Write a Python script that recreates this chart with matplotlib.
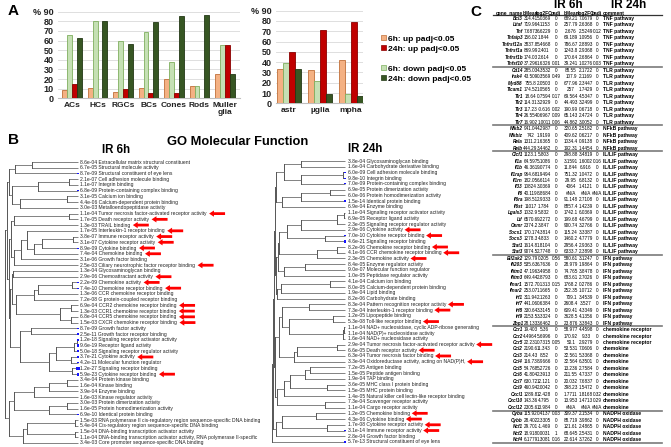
import numpy as np
import matplotlib
matplotlib.use('Agg')
import matplotlib.pyplot as plt
from matplotlib.patches import Patch
from matplotlib.transforms import offset_copy
from matplotlib import font_manager as fm

# ------------------------------------------------------------------ data (A)
series_labels = ['6h: up padj<0.05', '6h: down padj<0.05',
                 '24h: up padj<0.05', '24h: down padj<0.05']
retina_cells = ['ACs', 'HCs', 'RGCs', 'BCs', 'Cones', 'Rods', 'Muller\nglia']
retina_up6 = [8.7, 10.4, 6.2, 10.4, 20, 13, 25]
retina_down6 = [65.7, 80.3, 59.5, 68.5, 38, 13, 55]
retina_up24 = [14.5, 0, 9.7, 5.2, 5.5, 0, 55]
retina_down24 = [63, 80.3, 56.4, 79.2, 85.8, 86.5, 25]
glia_cells = ['astr', 'µglia', 'mpha']
glia_up6 = [33, 32, 42]
glia_down6 = [39, 22, 9]
glia_up24 = [50, 71, 79]
glia_down24 = [33, 9.5, 6.8]
pct_ticks = [0, 10, 20, 30, 40, 50, 60, 70, 80, 90]

# ------------------------------------------------------------------ data (B)
go6_pvals = ['8.6e-04', '6.7e-05', '8.7e-09', '2.1e-07', '1.1e-07', '6.8e-09', '3.1e-05', '4.4e-06',
             '3.0e-03', '1.1e-04', '1.7e-05', '1.3e-03', '1.7e-05', '3.8e-07', '3.1e-07', '8.9e-09',
             '7.4e-04', '3.1e-06', '2.5e-03', '1.3e-04', '2.9e-06', '2.2e-09', '7.4e-10', '1.3e-06',
             '7.2e-08', '6.9e-04', '1.3e-03', '6.8e-04', '1.5e-03', '8.7e-09', '2.5e-11', '1.2e-18',
             '9.6e-19', '5.0e-18', '3.7e-21', '4.2e-11', '1.2e-27', '5.9e-23', '3.4e-04', '1.6e-04',
             '3.9e-04', '1.6e-03', '3.0e-03', '1.6e-05', '6.9e-10', '1.5e-03', '5.4e-04', '1.5e-04',
             '1.1e-04', '3.4e-03']
go6_terms = ['Extracellular matrix structural constituent', 'Structural molecule activity',
             'Structural constituent of eye lens', 'Cell adhesion molecule binding', 'Integrin binding',
             'Protein-containing complex binding', 'Calcium ion binding', 'Calcium-dependent protein binding',
             'Metalloendopeptidase activity', 'Tumor necrosis factor-activated receptor activity',
             'Death receptor activity', 'TRAIL binding', 'Interleukin-1 receptor binding',
             'Immune receptor activity', 'Cytokine receptor activity', 'Cytokine binding',
             'Chemokine binding', 'Growth factor binding', 'Ciliary neurotrophic factor receptor binding',
             'Glycosaminoglycan binding', 'Chemoattractant activity', 'Chemokine activity',
             'Chemokine receptor binding', 'CCR chemokine receptor binding',
             'G protein-coupled receptor binding', 'CCR2 chemokine receptor binding',
             'CCR1 chemokine receptor binding', 'CCR5 chemokine receptor binding',
             'CXCR chemokine receptor binding', 'Growth factor activity', 'Growth factor receptor binding',
             'Signaling receptor activator activity', 'Receptor ligand activity',
             'Signaling receptor regulator activity', 'Cytokine activity', 'Molecular function regulator',
             'Signaling receptor binding', 'Cytokine receptor binding', 'Protein kinase binding',
             'Kinase binding', 'Enzyme binding', 'Kinase regulator activity', 'Protein dimerization activity',
             'Protein homodimerization activity', 'Identical protein binding',
             'RNA polymerase II cis-regulatory region sequence-specific DNA binding',
             'Cis-regulatory region sequence-specific DNA binding',
             'DNA-binding transcription activator activity',
             'DNA-binding transcription activator activity, RNA polymerase II-specific',
             'Core promoter sequence-specific DNA binding']
go6_marked = [9, 10, 11, 12, 13, 14, 15, 16, 18, 20, 21, 22, 25, 26, 27, 28, 34, 37]
go6_tree = (1.0,
            (0.97,
             (0.95, (0.86, (0.63, 0, 1), 2),
              (0.9, (0.55, (0.13, 3, 4), 5), (0.8, (0.15, 6, 7), 8))),
             (0.94,
              (0.92, (0.88, (0.13, 9, 10), 11),
               (0.88, (0.78, (0.7, 12, (0.6, (0.5, (0.07, 13, 14), 15), 16)), 17), 18)),
              (0.93,
               (0.9, (0.89, 19, 20),
                (0.85, (0.6, (0.55, (0.08, 21, 22), 23), 24), (0.25, (0.1, 25, 26), (0.1, 27, 28)))),
               (0.8, (0.65, 29, 30),
                (0.4, (0.3, (0.05, (0.02, 31, 32), 33), (0.1, 34, 35)), (0.08, 36, 37)))))),
            (0.95, (0.88, (0.6, (0.4, (0.15, 38, 39), 40), 41), (0.4, (0.15, 42, 43), 44)),
             (0.75, (0.7, (0.04, 45, 46), (0.04, 47, 48)), 49)))

go24_pvals = ['3.8e-04', '1.6e-04', '6.0e-09', '9.8e-10', '7.0e-09', '6.9e-05', '6.0e-06', '1.5e-14',
              '6.9e-04', '1.1e-04', '6.9e-05', '2.3e-05', '2.9e-06', '7.0e-10', '4.6e-21', '8.2e-06',
              '4.1e-06', '2.3e-05', '8.4e-05', '9.0e-07', '1.0e-05', '4.1e-04', '8.0e-05', '1.9e-04',
              '8.2e-06', '8.3e-04', '7.3e-04', '1.2e-05', '5.3e-08', '1.1e-04', '1.1e-04', '1.6e-04',
              '2.9e-04', '6.6e-05', '6.3e-04', '3.3e-04', '7.2e-05', '1.5e-05', '1.9e-04', '3.6e-05',
              '1.5e-05', '1.4e-05', '7.3e-04', '1.1e-04', '1.2e-05', '4.3e-06', '1.7e-08', '3.1e-14',
              '2.8e-04', '5.7e-13']
go24_terms = ['Glycosaminoglycan binding', 'Carbohydrate derivative binding', 'Cell adhesion molecule binding',
              'Integrin binding', 'Protein-containing complex binding', 'Protein dimerization activity',
              'Protein homodimerization activity', 'Identical protein binding', 'Enzyme binding',
              'Signaling receptor activator activity', 'Receptor ligand activity',
              'Signaling receptor regulator activity', 'Cytokine activity', 'Cytokine receptor binding',
              'Signaling receptor binding', 'Chemokine receptor binding', 'CCR chemokine receptor binding',
              'Chemokine activity', 'Enzyme regulator activity', 'Molecular function regulator',
              'Peptidase regulator activity', 'Calcium ion binding', 'Calcium-dependent protein binding',
              'Lipid binding', 'Carbohydrate binding', 'Pattern recognition receptor activity',
              'Interleukin-1 receptor binding', 'Lipopeptide binding', 'Toll-like receptor binding',
              'NAD+ nucleosidase, cyclic ADP-ribose generating', 'NAD(P)+ nucleosidase activity',
              'NAD+ nucleosidase activity', 'Tumor necrosis factor-activated receptor activity',
              'Death receptor activity', 'Tumor necrosis factor binding',
              'Oxidoreductase activity, acting on NAD(P)H,', 'Antigen binding', 'Peptide antigen binding',
              'TAP binding', 'MHC class I protein binding', 'MHC protein binding',
              'Natural killer cell lectin-like receptor binding', 'Scavenger receptor activity',
              'Cargo receptor activity', 'Chemokine binding', 'Cytokine binding', 'Cytokine receptor activity',
              'Immune receptor activity', 'Growth factor binding', 'Structural constituent of eye lens']
go24_marked = [12, 13, 15, 16, 17, 25, 26, 28, 32, 33, 34, 35, 44, 45, 46, 47]
go24_tree = (1.0,
             (0.98,
              (0.97,
               (0.96,
                (0.95, (0.84, (0.6, 0, 1), (0.6, (0.03, 2, 3), 4)), (0.86, (0.6, (0.2, 5, 6), 7), 8)),
                (0.95,
                 (0.92, (0.9, (0.8, (0.6, (0.11, (0.02, 9, 10), 11), 12), (0.27, 13, 14)),
                         (0.38, (0.11, 15, 16), 17)), (0.84, (0.55, 18, 19), 20)),
                 (0.93, (0.87, (0.2, 21, 22), 23), 24))),
               (0.96,
                (0.9, (0.86, (0.5, 25, 26), (0.77, (0.16, 27, 28), (0.03, (0.01, 29, 30), 31))),
                 (0.7, (0.66, (0.11, 32, 33), 34), 35)),
                (0.93, (0.84, (0.75, (0.55, (0.48, 36, 37), 38), (0.25, 39, 40)), 41), (0.27, 42, 43)))),
              (0.95, (0.86, (0.4, 44, 45), (0.25, 46, 47)), 48)),
             49)

# ------------------------------------------------------------------ data (C)
NA = np.nan
tab_genes = ['Bcl3', 'Litaf', 'Tnf', 'Tnfaip3', 'Tnfrsf12a', 'Tnfrsf1a', 'Tnfrsf1b', 'Tnfsf10',
             'Cd14', 'Irak4', 'Myd88', 'Ticam1', 'Tlr1', 'Tlr2', 'Tlr3', 'Tlr4', 'Tlr7',
             'Nfkb2', 'Nfkbiz', 'Rela', 'Relb',
             'Clcf1', 'Il1a', 'Il1b', 'Il1rap', 'Il1rn', 'Il33', 'Il6', 'Il6ra', 'Il6st', 'Lgals3', 'Lif',
             'Osmr', 'Socs1', 'Socs3', 'Stat1', 'Stat3',
             'Eif2ak2', 'Ifi203', 'Ifitm1', 'Ifitm3', 'Ifnar1', 'Ifnar2', 'Irf1', 'Irf7', 'Irf8', 'Irf9', 'Zbp1',
             'Ccr1', 'Ccr2', 'Ccr5', 'Ccl2', 'Ccl3', 'Ccl4', 'Ccl5', 'Ccl6', 'Ccl7', 'Ccl9', 'Cxcl1',
             'Cxcl10', 'Cxcl12',
             'Cyba', 'Cybb', 'Ncf1', 'Ncf2', 'Ncf4']
tab_bmean6 = [314.41, 719.96, 7.6873, 156.02, 3837.8, 869.99, 174.03, 37.296,
              285.03, 43.509, 755.8, 174.52, 18.64, 114.31, 117.23, 26.554, 16.902,
              941.04, 742, 1311.2, 444.29,
              1123.1, 64.597, 46.361, 964.68, 182.05, 10824, 40.119, 198.51, 11017, 1032.9, 6570.6,
              2374.2, 170.17, 1278.3, 1614.8, 9074.5,
              129.79, 535.63, 47.196, 649.44, 1572.7, 253.07, 311.94, 441.06, 330.64, 2153.5, 28.133,
              19.403, 4.4964, 22.231, 2190.6, 214.43, 116.73, 54.768, 41.804, 630.72, 460.94, 1289.8,
              143.36, 2305.6,
              115.92, 28.402, 29.701, 18.918, 6.1779]
tab_lfc6 = [5.0369, 4.1153, 6.6229, 1.844, 5.4668, 2.401, 2.614, 1.6326,
            4.3532, 0.3569, 2.0503, 1.0565, 0.7594, 3.2929, -0.616, 0.6967, 1.0011,
            4.2987, 1.9199, 1.6365, 3.4462,
            5.803, 5.1086, 9.0774, 1.9494, 6.6114, 3.0369, 8.8684, 2.9333, 1.784, 5.832, 9.2272,
            3.847, 4.3814, 4.833, 1.8104, 2.7748,
            0.205, 6.7636, 3.4958, 2.8793, 0.1313, 1.1665, 2.1263, 0.6384, 3.3145, 3.3324, 3.6462,
            5.36, 5.6996, 0.7315, 11.343, 8.52, 8.9666, 5.2726, 2.3913, 12.121, 2.0042, 12.428,
            4.795, 13.984,
            0.4137, 2.3305, -1.469, 0.0031, 1.3081]
tab_padj6 = [0, 0, 0, 0, 0, 0, 0, 0.01,
             0, 0.49, 0, 0, 0.17, 0, 0.02, 0.09, 0.06,
             0, 0, 0, 0,
             0, 0, 0, 0, 0, 0, 0, 0, 0, 0, 0, 0, 0, 0, 0, 0,
             0.56, 0, 0, 0, 0.15, 0, 0, 0, 0, 0, 0,
             0, 0, 0.05, 0, 0, 0, 0, 0, 0, 0, 0, 0, 0,
             0.03, 0, 0, 1, 0.16]
tab_bmean24 = [689.21, 257.79, 2.676, 69.189, 786.67, 1243.8, 170.64, 39.241,
               88.55, 107.9, 677.96, 257, 69.564, 44.493, 190.99, 65.143, 44.862,
               320.65, 409.62, 1034.4, 192.31,
               298.88, 3.1591, 11.844, 751.32, 29.95, 4064, NA, 91.148, 8857.4, 1742.1, 199.68,
               900.74, 115.24, 1460.2, 2956.4, 6333.7,
               580.61, 28.979, 74.765, 683.61, 1768.2, 252.35, 709.1, 2608.4, 609.41, 3628.5, 23.876,
               58.977, 170.92, 50.1, 53.531, 32.561, 32.564, 13.236, 211.55, 20.032, 398.23, 1.7711,
               13.953, NA,
               309.37, 88.719, 121.61, 68.645, 22.614]
tab_lfc24 = [7.0679, 2.6368, 2.5249, 1.0956, 2.8893, 2.9368, 2.6864, 1.0276,
             2.1722, 2.1169, 2.3447, 1.7429, 4.5347, 3.2499, 0.6718, 2.4724, 3.0052,
             2.5182, 0.6217, 0.9138, 1.4454,
             3.4819, 1.6002, 6.916, 1.0472, 6.8132, 1.4121, NA, 2.7108, 1.4239, 6.0369, 4.6799,
             3.2766, 3.3387, 4.7779, 2.9363, 2.3898,
             3.1247, 1.9864, 3.8478, 2.7026, 0.2786, 1.0712, 3.4539, 3.527, 4.3349, 4.1356, 3.3843,
             4.4598, 9.33, 2.9279, 7.0606, 5.3368, 6.3501, 2.7584, 4.7337, 7.6837, 1.5472, 1.8168,
             1.4713, NA,
             2.1534, 3.9862, 2.4865, 2.5431, 3.7262]
tab_padj24 = [0, 0, 0.12, 0, 0, 0, 0, 0.03,
              0, 0, 0, 0, 0, 0, 0, 0, 0,
              0, 0, 0, 0,
              0, 0.16, 0, 0, 0, 0, NA, 0, 0, 0, 0, 0, 0, 0, 0, 0,
              0, 0, 0, 0, 0, 0, 0, 0, 0, 0, 0,
              0, 0, 0, 0, 0, 0, 0, 0, 0, 0, 0.32, 0.29, NA,
              0, 0, 0, 0, 0]
tab_comment = (['TNF pathway'] * 8 + ['TLR pathway'] * 9 + ['NFkB pathway'] * 4 +
               ['IL/LIF pathway'] * 16 + ['IFN pathway'] * 11 + ['chemokine receptor'] * 3 +
               ['chemokine'] * 10 + ['NADPH oxidase'] * 5)
tab_header = ['gene_name', 'bMean', 'log2FC', 'padj', 'bMean', 'log2FC', 'padj', 'comment']
tab_titles = ['IR 6h', 'IR 24h']

# ------------------------------------------------------------------ figure
W, H = 671, 447
plt.rcParams['font.family'] = ['Liberation Sans', 'DejaVu Sans']
fig = plt.figure(figsize=(W / 100, H / 100), dpi=100)
names = {f.name for f in fm.fontManager.ttflist}
NARROW = 'Liberation Sans Narrow' if 'Liberation Sans Narrow' in names else 'Liberation Sans'


def px_axes(x0, y0, x1, y1):
    return fig.add_axes([x0 / W, 1 - y1 / H, (x1 - x0) / W, (y1 - y0) / H])


FILL = ['#F4B183', '#C5E0B4', '#C00000', '#375623']
EDGE = ['#C0703A', '#7FAF5F', '#8A0000', '#233816']


def bar_chart(ax, cats, series, xlim):
    x = np.arange(len(cats))
    w = 0.19
    for k, vals in enumerate(series):
        ax.bar(x + (k - 1.5) * w, vals, width=w, color=FILL[k], edgecolor=EDGE[k], linewidth=0.6, zorder=3)
    ax.set_xlim(*xlim)
    ax.set_ylim(0, 90)
    ax.set_yticks(pct_ticks)
    ax.set_yticklabels([str(t) if t < 90 else '% ' + str(t) for t in pct_ticks],
                       fontsize=6.5, fontweight='bold', color='#222222')
    ax.set_xticks(x)
    ax.set_xticklabels(cats, fontsize=6, fontweight='bold', color='#222222', linespacing=1.0)
    ax.tick_params(length=0, pad=3)
    ax.grid(axis='y', color='#d9d9d9', lw=0.6, zorder=0)
    for s in ['top', 'right', 'left']:
        ax.spines[s].set_visible(False)
    ax.spines['bottom'].set_color('#bfbfbf')
    ax.spines['bottom'].set_linewidth(0.8)
    ax.set_facecolor('none')


ax1 = px_axes(58, 11.7, 240, 98.3)
bar_chart(ax1, retina_cells, [retina_up6, retina_down6, retina_up24, retina_down24], (-0.55, 6.59))
ax2 = px_axes(276, 10.7, 363, 103.3)
bar_chart(ax2, glia_cells, [glia_up6, glia_down6, glia_up24, glia_down24], (-0.42, 2.39))

handles = [Patch(facecolor=FILL[k], edgecolor=EDGE[k], linewidth=0.5) for k in range(4)]
for grp, ytop in (([0, 2], 35), ([1, 3], 65)):
    fig.legend([handles[k] for k in grp], [series_labels[k] for k in grp], loc='upper left',
               bbox_to_anchor=(381 / W, 1 - ytop / H), frameon=False, handlelength=0.6,
               handleheight=0.6, handletextpad=0.2, labelspacing=0.3, borderpad=0, borderaxespad=0,
               prop=dict(weight='bold', size=6))

fig.text(8 / W, 1 - 11 / H, 'A', fontsize=11, fontweight='bold', va='center', ha='left')
fig.text(8 / W, 1 - 140 / H, 'B', fontsize=11, fontweight='bold', va='center', ha='left')
fig.text(470 / W, 1 - 12 / H, 'C', fontsize=11, fontweight='bold', va='center', ha='left')
fig.text(238 / W, 1 - 142 / H, 'GO Molecular Function', fontsize=9.3, fontweight='bold', ha='center', va='center')
fig.text(116 / W, 1 - 150 / H, 'IR 6h', fontsize=8.3, fontweight='bold', ha='center', va='center')
fig.text(365 / W, 1 - 149 / H, 'IR 24h', fontsize=8.3, fontweight='bold', ha='center', va='center')

# ------------------------------------------------------------------ dendrograms


def draw_tree(ax, node):
    if isinstance(node, int):
        return float(node), 0.0
    h = node[0]
    pts = [draw_tree(ax, c) for c in node[1:]]
    for y, ch in pts:
        ax.plot([ch, h], [y, y], color='#6e6e6e', lw=0.6, solid_capstyle='butt', clip_on=False)
    ys = [p[0] for p in pts]
    ax.plot([h, h], [min(ys), max(ys)], color='#3a3a3a', lw=0.6, clip_on=False)
    return float(np.mean(ys)), h


def dendro(box, tree, pvals, terms, marked):
    x0, x1, ytop, ybot = box
    n = len(terms)
    step = (ybot - ytop) / (n - 1)
    ax = px_axes(x0, ytop - step / 2, x1, ybot + step / 2)
    ax.set_xlim(1.0, 0.0)
    ax.set_ylim(n - 0.5, -0.5)
    ax.axis('off')
    draw_tree(ax, tree)
    p = np.array([float(v) for v in pvals])
    ax.scatter(np.zeros(n), np.arange(n), s=(-np.log10(p)) ** 2 * 0.008, color='#1515ff',
               marker='s', linewidths=0, zorder=4, clip_on=False)
    tr = offset_copy(ax.transData, fig=fig, x=2.5, y=0, units='dots')
    for i in range(n):
        t = ax.text(0, i, pvals[i] + ' ' + terms[i], transform=tr, fontsize=3.6, va='center',
                    ha='left', color='#222222')
        if i in marked:
            ax.annotate('', xy=(1, 0.5), xycoords=t, xytext=(13, 0), textcoords='offset points',
                        arrowprops=dict(arrowstyle='simple,head_length=0.7,head_width=0.9,tail_width=0.4',
                                        mutation_scale=5, color='#ff0000', shrinkA=0, shrinkB=1.5, lw=0))
    return ax


dendro((5, 78, 162, 443), go6_tree, go6_pvals, go6_terms, go6_marked)
dendro((272, 345, 161, 442), go24_tree, go24_pvals, go24_terms, go24_marked)

# ------------------------------------------------------------------ table C
row0, rstep = 18.5, 6.48
axt = px_axes(490, 0, 671, 447)
axt.set_xlim(490, 671)
axt.set_ylim((447 - row0) / rstep, (0 - row0) / rstep)
axt.axis('off')


def fmt(v):
    return '#N/A' if (isinstance(v, float) and np.isnan(v)) else f'{v:g}'


col_c = [523, 530.5, 544, 556, 571, 586, 597, 603]
num_cols = [tab_bmean6, tab_lfc6, tab_padj6, tab_bmean24, tab_lfc24, tab_padj24]
fs = 3.3
for i, g in enumerate(tab_genes):
    axt.text(col_c[0], i, g, ha='right', va='center', fontsize=fs, fontweight='bold', style='italic',
             family=[NARROW, 'DejaVu Sans'])
    for j, col in enumerate(num_cols):
        axt.text(col_c[j + 1], i, fmt(col[i]), ha='center', va='center', fontsize=fs,
                 family=[NARROW, 'DejaVu Sans'])
    axt.text(col_c[7], i, tab_comment[i], ha='left', va='center', fontsize=3.6, fontweight='bold',
             family=[NARROW, 'DejaVu Sans'])

yh = (13.2 - row0) / rstep
axt.text(col_c[0], yh, tab_header[0], ha='right', va='center', fontsize=3.5, fontweight='bold',
         family=[NARROW, 'DejaVu Sans'])
for j in range(1, 7):
    axt.text(col_c[j], yh, tab_header[j], ha='center', va='center', fontsize=3.5, fontweight='bold',
             family=[NARROW, 'DejaVu Sans'])
axt.text(col_c[7], yh, tab_header[7], ha='left', va='center', fontsize=3.5, fontweight='bold',
         family=[NARROW, 'DejaVu Sans'])
yt = (5.5 - row0) / rstep
axt.text(568, yt, tab_titles[0], ha='center', va='center', fontsize=8.5, fontweight='bold')
axt.text(629, yt, tab_titles[1], ha='center', va='center', fontsize=8.5, fontweight='bold')

axt.plot([493, 662], [-0.5, -0.5], color='#333333', lw=0.9)
groups = [c.split()[0] for c in tab_comment]
for i in range(1, len(groups)):
    if groups[i] != groups[i - 1]:
        axt.plot([493, 662], [i - 0.5, i - 0.5], color='#7a7a7a', lw=1.2)
axt.plot([493, 662], [len(groups) - 0.5] * 2, color='#7a7a7a', lw=1.2)

fig.savefig('out.png', dpi=100)
